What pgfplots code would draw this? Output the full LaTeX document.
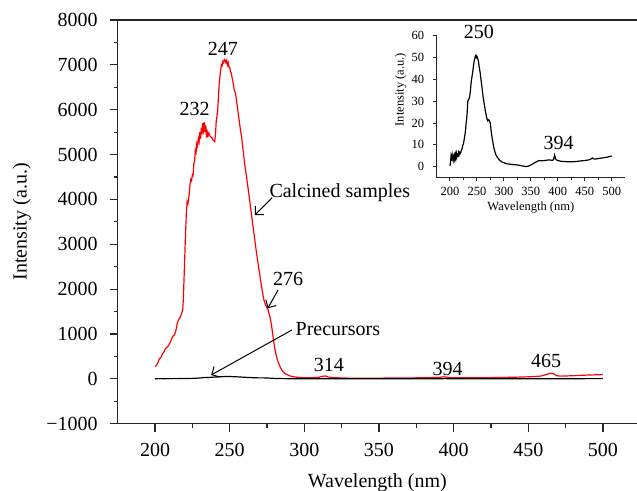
\documentclass[border=0pt]{standalone}
\usepackage{fontspec}
\setmainfont{Liberation Serif}
\usepackage{pgfplots}
\pgfplotsset{compat=1.18}
\usepackage{pgfplotstable}
\usetikzlibrary{arrows.meta}

\pgfplotstableread{
x y
200 270
201 300
202 370
203 450
204 480
205 560
206 600
207 680
208 700
209 740
210 800
211 880
212 950
213 980
214 1080
215 1250
216 1330
217 1380
218 1480
218.6 1550
219 1800
219.5 2300
220 2800
220.5 3300
221 3700
221.5 3950
222 3900
222.5 4000
223 4150
223.5 4350
224 4450
224.5 4420
225 4550
225.5 4530
226 4800
226.5 4850
227 5100
227.5 5050
228 5250
228.5 5200
229 5350
229.5 5280
230 5500
230.5 5350
231 5600
231.5 5450
232 5700
232.5 5550
233 5720
233.5 5500
234 5650
234.5 5380
235 5500
235.5 5420
236 5480
237 5400
238 5380
239 5320
240 5290
240.5 5450
241 5750
241.5 5850
242 6000
242.5 6300
243 6600
243.5 6750
244 6900
244.5 7000
245 6980
245.5 7080
246 7050
246.5 7120
247 7100
247.5 7050
248 7100
248.5 7000
249 7050
249.5 6950
250 6950
250.5 6850
251 6820
252 6650
253 6450
254 6350
255 6100
256 5850
257 5600
258 5380
259 5100
260 4800
261 4570
262 4330
263 4080
264 3820
265 3560
266 3300
267 3050
268 2800
269 2570
270 2350
271 2130
272 1920
273 1750
274 1650
275 1580
275.5 1560
276 1500
277 1380
278 1200
279 950
280 720
281 550
282 420
283 330
284 250
285 190
286 150
288 100
290 70
292 50
295 35
300 25
305 25
310 35
312 55
314 65
316 40
320 25
330 15
340 15
350 15
360 20
370 20
380 25
390 30
393 45
395 40
398 25
410 25
420 25
430 30
440 35
450 45
458 60
462 95
465 125
467 110
469 70
472 60
480 70
490 85
500 95
}\calcined

\pgfplotstableread{
x y
200 0.3
201 2
202 5
203 4
204 5.5
205 3.5
206 4.5
207 3
208 5
209 3.5
210 5.5
211 4
212 6
213 4.5
214 5.5
215 5
216 6.5
217 5.5
218 6.5
219 6
220 6.5
221 7.5
222 8
223 9
224 10
225 10.5
226 12
227 13.5
228 15
229 17
230 20
231 22
232 25
233 30
234 30.5
235 31
236 31.5
237 33
238 35
239 38
240 40
241 41.5
242 43
243 45
244 47
245 48.5
246 49.5
247 50.5
248 51
249 50
250 50.5
251 50
252 49
253 48
254 46
255 44.5
256 43
257 41
258 39
259 37
260 35
262 31
264 28
266 25
268 22.5
270 21
272 21.5
273 21
274 20.5
275 19.5
276 17
278 13.5
280 10.5
282 8
285 5.5
288 4.2
292 3
296 2.2
300 1.8
306 1.3
315 1
325 0.8
335 0.3
340 0.1
345 0.2
350 0.8
355 1.5
360 2.2
365 2.8
370 2.7
375 2.8
380 3
385 3.1
390 2.9
392 3.2
394 5.3
396 3.5
398 3
405 2.5
415 2.3
425 2.2
435 2.4
445 2.7
455 3
460 3.3
464 4
466 3.6
470 3.5
480 3.9
490 4.3
500 4.9
}\precursor

\begin{document}
\begin{tikzpicture}
\begin{axis}[
  at={(0pt,0pt)}, anchor=south west,
  scale only axis, width=259.65pt, height=201.85pt,
  xmin=175, xmax=522.8, ymin=-1000, ymax=8000,
  axis y line*=left,
  tick pos=left,
  tick align=outside,
  xtick={200,250,...,500},
  minor x tick num=1,
  ytick={-1000,0,1000,2000,3000,4000,5000,6000,7000,8000},
  yticklabels={−1000,0,1000,2000,3000,4000,5000,6000,7000,8000},
  minor y tick num=1,
  major tick length=4pt, minor tick length=2pt,
  /pgf/number format/assume math mode=true,
  /pgf/number format/1000 sep={},
  tick label style={font=\fontsize{10}{12}\selectfont},
  xticklabel shift=2pt, yticklabel shift=2.5pt,
  xlabel={Wavelength (nm)},
  ylabel={Intensity (a.u.)},
  every axis x label/.style={at={(axis description cs:0.5,-0.158)}, anchor=base, font=\fontsize{10}{12}\selectfont},
  every axis y label/.style={at={(axis description cs:-0.1845,0.5)}, anchor=center, rotate=90, font=\fontsize{10}{12}\selectfont},
  axis line style={black!85, line width=0.6pt},
  every tick/.style={black!85, line width=0.6pt},
  clip=false,
]
\addplot[red, line width=0.6pt] table {\calcined};
\addplot[black, line width=0.6pt] table {\precursor};
\begin{scope}[font=\fontsize{10}{12}\selectfont]
\node[anchor=base, inner sep=0pt] at (axis cs:245.4,7218) {247};
\node[anchor=base, inner sep=0pt] at (axis cs:226.6,5880) {232};
\node[anchor=base west, inner sep=0pt] at (axis cs:276.4,4046) {Calcined samples};
\node[anchor=base, inner sep=0pt] at (axis cs:289.2,2091) {276};
\node[anchor=base west, inner sep=0pt] at (axis cs:293.9,976) {Precursors};
\node[anchor=base, inner sep=0pt] at (axis cs:316.4,159) {314};
\node[anchor=base, inner sep=0pt] at (axis cs:396,85) {394};
\node[anchor=base, inner sep=0pt] at (axis cs:462,248) {465};
\end{scope}
\draw[black, line width=0.5pt, -{Straight Barb[length=3pt,width=6pt]}] (axis cs:278.4,4037) -- (axis cs:266.8,3650);
\draw[black, line width=0.5pt, -{Straight Barb[length=3pt,width=6pt]}] (axis cs:282.4,1980) -- (axis cs:275.5,1571);
\draw[black, line width=0.5pt, -{Straight Barb[length=3pt,width=6pt]}] (axis cs:291.6,1088) -- (axis cs:237.6,85);
\end{axis}

\begin{axis}[
  at={(159.4pt,123.05pt)}, anchor=south west,
  scale only axis, width=94.35pt, height=70.95pt,
  xmin=175, xmax=525, ymin=-5, ymax=60,
  axis x line*=bottom, axis y line*=left,
  tick align=outside,
  xtick={200,250,...,500},
  minor x tick num=1,
  ytick={0,10,...,60},
  major tick length=1.75pt, minor tick length=1pt,
  /pgf/number format/assume math mode=true,
  tick label style={font=\fontsize{6.25}{7}\selectfont},
  xticklabel shift=-0.3pt,
  yticklabel shift=0.9pt,
  xlabel={Wavelength (nm)},
  ylabel={Intensity (a.u.)},
  every axis x label/.style={at={(axis description cs:0.5,-0.235)}, anchor=base, font=\fontsize{6.25}{7}\selectfont},
  every axis y label/.style={at={(axis description cs:-0.19,0.62)}, anchor=center, rotate=90, font=\fontsize{6.25}{7}\selectfont},
  axis line style={black!85, line width=0.5pt},
  every tick/.style={black!85, line width=0.5pt},
  clip=false,
]
\addplot[black, line width=0.6pt] table {\precursor};
\node[anchor=base, inner sep=0pt, font=\fontsize{10}{12}\selectfont] at (axis cs:253.6,58.8) {250};
\node[anchor=base, inner sep=0pt, font=\fontsize{10}{12}\selectfont] at (axis cs:401.4,7.65) {394};
\end{axis}
\pgfresetboundingbox
\path[use as bounding box] (-58.85pt,-33.65pt) rectangle (259.65pt,211.85pt);
\end{tikzpicture}
\end{document}
